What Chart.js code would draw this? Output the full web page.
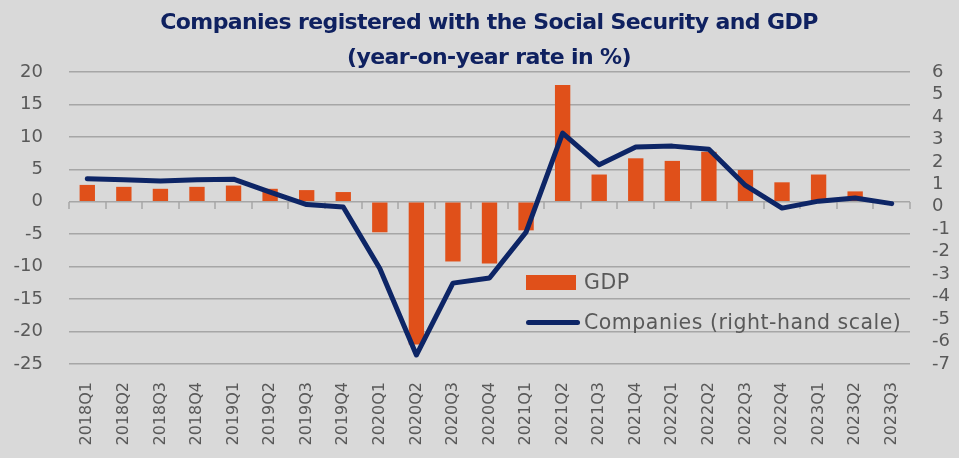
<!DOCTYPE html>
<html>
<head>
<meta charset="utf-8">
<script src="https://cdn.jsdelivr.net/npm/chart.js@4.4.1/dist/chart.umd.min.js"></script>
<style>
  html, body { margin: 0; padding: 0; background: #d9d9d9; }
  #wrap { position: relative; width: 959px; height: 458px; overflow: hidden; background: #d9d9d9; }
  #chartBox { position: absolute; left: 0; top: 0; width: 959px; height: 480px; }
  #title {
    position: absolute; left: 0; top: 4px; width: 978px; text-align: center;
    font-family: "DejaVu Sans", sans-serif; font-weight: bold; font-size: 22px;
    line-height: 35px; color: #0f2160; letter-spacing: -0.6px;
  }
  .legend { position: absolute; left: 526px; font-family: "DejaVu Sans", sans-serif; font-size: 20.5px; letter-spacing: 0.5px; color: #595959; }
  .legend span { display: inline-block; vertical-align: middle; }
  #legGdp { top: 269px; }
  #legGdp .swatch { width: 50px; height: 15px; background: #e0501a; margin-right: 8px; }
  #legComp { top: 309px; }
  #legComp .swatch { width: 54px; height: 5px; background: #0d2566; border-radius: 3px; margin-right: 4px; }
</style>
</head>
<body>
<div id="wrap">
  <div id="chartBox"><canvas id="empresasChart"></canvas></div>
  <div id="title">Companies registered with the Social Security and GDP<br>(year-on-year rate in %)</div>
  <div class="legend" id="legGdp"><span class="swatch"></span><span>GDP</span></div>
  <div class="legend" id="legComp"><span class="swatch"></span><span>Companies (right-hand scale)</span></div>
</div>
<script>
// Quarters on the x axis
const quarters = [
  '2018Q1', '2018Q2', '2018Q3', '2018Q4',
  '2019Q1', '2019Q2', '2019Q3', '2019Q4',
  '2020Q1', '2020Q2', '2020Q3', '2020Q4',
  '2021Q1', '2021Q2', '2021Q3', '2021Q4',
  '2022Q1', '2022Q2', '2022Q3', '2022Q4',
  '2023Q1', '2023Q2', '2023Q3'
];

// GDP, year-on-year % (left scale); no figure yet for the last quarter
const gdpRate = [
  2.6, 2.3, 2.0, 2.3,
  2.5, 2.0, 1.8, 1.5,
  -4.7, -22.0, -9.2, -9.5,
  -4.4, 18.0, 4.2, 6.7,
  6.3, 7.7, 4.9, 3.0,
  4.2, 1.6, null
];

// Companies registered with the Social Security, year-on-year % (right scale)
const companiesRate = [
  1.25, 1.2, 1.15, 1.2,
  1.23, 0.65, 0.1, -0.01,
  -2.75, -6.6, -3.4, -3.17,
  -1.13, 3.28, 1.87, 2.66,
  2.7, 2.56, 0.95, -0.06,
  0.25, 0.39, 0.14
];

const tickColor = '#595959';
const gridColor = '#a6a6a6';
const tickFont = { family: 'DejaVu Sans', size: 18 };

// little tick marks hanging under the zero line, one per category boundary
const zeroTicks = {
  id: 'zeroTicks',
  beforeDatasetsDraw(chart) {
    const x = chart.scales.x;
    const y0 = Math.round(chart.scales.y.getPixelForValue(0));
    const c = chart.ctx;
    c.save();
    c.strokeStyle = gridColor;
    c.lineWidth = 1.5;
    c.beginPath();
    for (let i = 0; i <= quarters.length; i++) {
      const px = Math.round(x.left + (x.width / quarters.length) * i);
      c.moveTo(px, y0);
      c.lineTo(px, y0 + 7);
    }
    c.stroke();
    c.restore();
  }
};

const ctx = document.getElementById('empresasChart');

new Chart(ctx, {
  data: {
    labels: quarters,
    datasets: [
      {
        type: 'line',
        label: 'Companies (right-hand scale)',
        data: companiesRate,
        yAxisID: 'y1',
        borderColor: '#0d2566',
        borderWidth: 5,
        borderJoinStyle: 'round',
        borderCapStyle: 'round',
        pointRadius: 0,
        tension: 0,
        order: 1
      },
      {
        type: 'bar',
        label: 'GDP',
        data: gdpRate,
        yAxisID: 'y',
        backgroundColor: '#e0501a',
        barPercentage: 0.42,
        categoryPercentage: 1,
        order: 2
      }
    ]
  },
  plugins: [zeroTicks],
  options: {
    responsive: true,
    maintainAspectRatio: false,
    animation: false,
    layout: { padding: { top: 72, left: 0, right: 0, bottom: 0 } },
    plugins: {
      legend: { display: false },
      tooltip: { enabled: false }
    },
    scales: {
      x: {
        position: 'bottom',
        grid: { display: false, drawTicks: false },
        border: { display: false },
        ticks: {
          color: tickColor,
          font: { family: 'DejaVu Sans', size: 16 },
          padding: 18,
          minRotation: 90,
          maxRotation: 90,
          autoSkip: false
        },
        afterFit: (scale) => { scale.height = 116; }
      },
      y: {
        position: 'left',
        min: -25,
        max: 20,
        ticks: { stepSize: 5, color: tickColor, font: tickFont, padding: 26, autoSkip: false },
        grid: { color: gridColor, lineWidth: 1.5, drawTicks: false },
        border: { display: false },
        afterFit: (scale) => { scale.width = 69; }
      },
      y1: {
        position: 'right',
        min: -7,
        max: 6,
        ticks: { stepSize: 1, color: tickColor, font: tickFont, padding: 22, autoSkip: false },
        grid: { display: false, drawTicks: false },
        border: { display: false },
        afterFit: (scale) => { scale.width = 49; }
      }
    }
  }
});
</script>
</body>
</html>
